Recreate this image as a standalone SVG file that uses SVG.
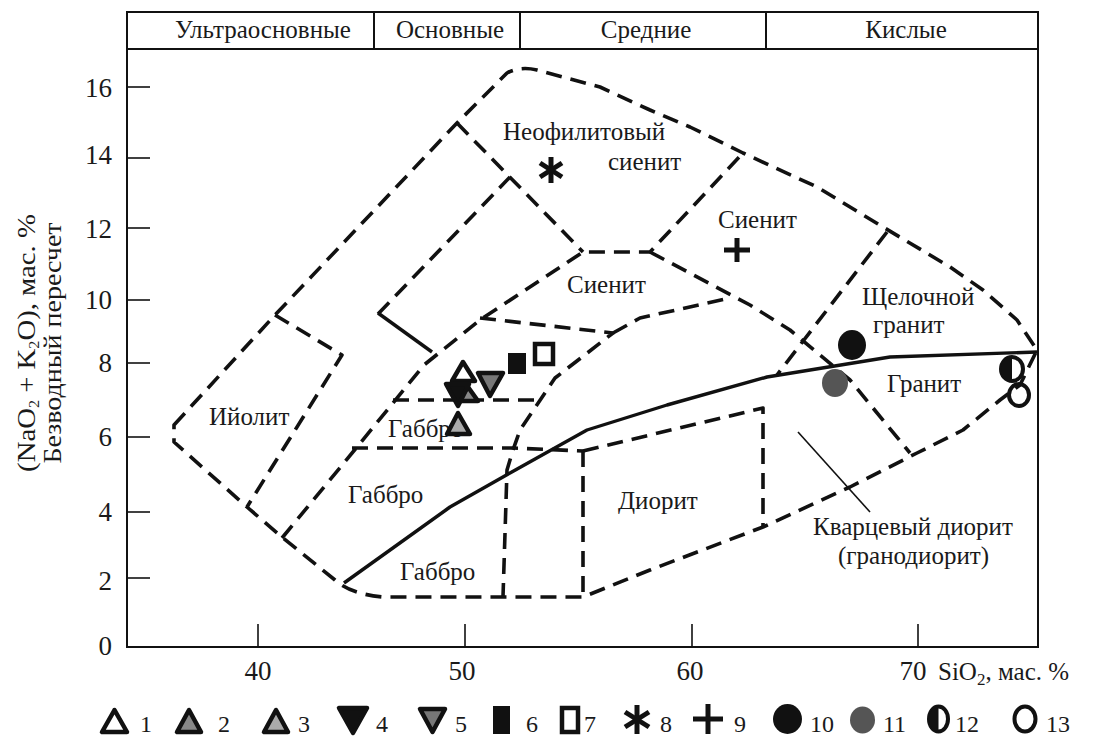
<svg xmlns="http://www.w3.org/2000/svg" width="1105" height="744" viewBox="0 0 1105 744">
<style>
text{font-family:"Liberation Serif","Times New Roman",serif;fill:#1a1a1a}
.lbl{font-size:25px}
.num{font-size:27px}
.leg{font-size:24px}
.dash{fill:none;stroke:#111;stroke-width:3.6;stroke-dasharray:16 9;stroke-linejoin:round}
.solid{fill:none;stroke:#111;stroke-width:3.4;stroke-linejoin:round}
.frame{fill:none;stroke:#111;stroke-width:2}
.tick{stroke:#111;stroke-width:1.6}
.mk{stroke:#111;stroke-width:4.5;stroke-linejoin:round}
.bar{stroke:#111;stroke-width:5;fill:none}
</style>
<rect width="1105" height="744" fill="#fff"/>
<g id="frame">
<rect class="frame" x="127" y="12" width="911" height="635"/>
<line class="frame" x1="127" y1="49" x2="1038" y2="49"/>
<line class="frame" x1="374" y1="12" x2="374" y2="49"/>
<line class="frame" x1="520" y1="12" x2="520" y2="49"/>
<line class="frame" x1="766" y1="12" x2="766" y2="49"/>
<text class="lbl" x="263" y="38" text-anchor="middle">Ультраосновные</text>
<text class="lbl" x="450" y="38" text-anchor="middle">Основные</text>
<text class="lbl" x="646" y="38" text-anchor="middle">Средние</text>
<text class="lbl" x="906" y="38" text-anchor="middle">Кислые</text>
</g>
<g id="axes">
<g class="tick">
<line x1="127" y1="87" x2="150" y2="87"/>
<line x1="127" y1="158" x2="150" y2="158"/>
<line x1="127" y1="228" x2="150" y2="228"/>
<line x1="127" y1="300" x2="150" y2="300"/>
<line x1="127" y1="363" x2="150" y2="363"/>
<line x1="127" y1="437" x2="150" y2="437"/>
<line x1="127" y1="512" x2="150" y2="512"/>
<line x1="127" y1="578" x2="150" y2="578"/>
<line x1="258" y1="624" x2="258" y2="647"/>
<line x1="465" y1="624" x2="465" y2="647"/>
<line x1="692" y1="624" x2="692" y2="647"/>
<line x1="918" y1="624" x2="918" y2="647"/>
</g>
<g class="num" text-anchor="end">
<text x="112" y="97">16</text>
<text x="112" y="164">14</text>
<text x="112" y="238">12</text>
<text x="112" y="309">10</text>
<text x="112" y="372">8</text>
<text x="112" y="446">6</text>
<text x="112" y="521">4</text>
<text x="112" y="590">2</text>
<text x="112" y="655">0</text>
</g>
<g class="num" text-anchor="middle">
<text x="258" y="680">40</text>
<text x="462" y="680">50</text>
<text x="690" y="680">60</text>
<text x="913" y="680">70</text>
</g>
<text class="lbl" font-size="27" x="938" y="680">SiO<tspan font-size="17" dy="5">2</tspan><tspan dy="-5">, мас. %</tspan></text>
<text class="lbl" font-size="26" transform="translate(35,343) rotate(-90) scale(1.15,1)" text-anchor="middle">(NaO<tspan font-size="14" dy="4">2</tspan><tspan dy="-4"> + K</tspan><tspan font-size="14" dy="4">2</tspan><tspan dy="-4">O),  мас. %</tspan></text>
<text class="lbl" transform="translate(61,343) rotate(-90) scale(1.12,1)" text-anchor="middle">Безводный пересчет</text>
</g>
<g id="connectors">
<path class="dash" d="M174,425 L275,315 L457,123 L507,73 Q520,66 537,70 L600,87 L650,110 L690,127 L743,153 L817,187 L883,227 L950,267 L983,290 L1017,320 L1037,350 L1020,385 L1000,400 L963,430 L917,453 L850,487 L763,527 L650,570 L583,597 L383,597 Q350,594 335,580 L283,538 L247,507 L174,442 Z"/>
<path class="dash" d="M275,315 L342,355 L247,507"/>
<path class="dash" d="M282,538 L357,447 L424,365 L480,320 L583,252 L650,252 L743,153"/>
<path class="dash" d="M457,123 L583,252"/>
<path class="dash" d="M378,314 L510,177"/>
<path class="dash" d="M480,318 L613,333 L555,378 L520,430 L513,450 L507,470 L503,597"/>
<path class="dash" d="M613,333 L640,318 L730,298"/>
<path class="dash" d="M650,252 L750,305 L790,330 L850,380 L910,453"/>
<path class="dash" d="M887,232 L777,375"/>
<path class="dash" d="M393,400 L540,400"/>
<path class="dash" d="M352,448 L513,448 L583,451"/>
<path class="dash" d="M583,451 L763,408 L763,527"/>
<path class="dash" d="M583,451 L583,597"/>
<path class="solid" d="M378,313 L432,352"/>
<path class="solid" d="M344,583 L450,507 L510,473 L587,430 L667,405 L767,377 L890,357 L1037,352"/>
<path fill="none" stroke="#111" stroke-width="1.6" d="M798,432 L870,512"/>
</g>
<g id="labels" class="lbl">
<text x="503" y="140">Неофилитовый</text>
<text x="608" y="170">сиенит</text>
<text x="718" y="228">Сиенит</text>
<text x="567" y="293">Сиенит</text>
<text x="862" y="305">Щелочной</text>
<text x="873" y="333">гранит</text>
<text x="887" y="392">Гранит</text>
<text x="209" y="425">Ийолит</text>
<text x="388" y="437">Габбро</text>
<text x="348" y="503">Габбро</text>
<text x="400" y="580">Габбро</text>
<text x="618" y="509">Диорит</text>
<text x="813" y="535">Кварцевый диорит</text>
<text x="838" y="564">(гранодиорит)</text>
</g>
<g id="points">
<polygon class="mk" fill="#fff" points="463,362 452,381 475,381"/>
<polygon class="mk" fill="#888" points="468,387 458,401 478,401"/>
<polygon class="mk" fill="#111" stroke-width="3" points="446,384 469,384 458,406"/>
<polygon class="mk" fill="#aaa" points="458,413 447,434 470,434"/>
<polygon class="mk" fill="#777" points="478,373 503,373 490,396"/>
<rect x="508" y="353" width="18" height="21" fill="#111"/>
<rect x="535" y="344" width="18" height="20" fill="#fff" stroke="#111" stroke-width="4.5"/>
<g class="bar"><line x1="551" y1="157" x2="551" y2="183"/><line x1="540" y1="163" x2="562" y2="177"/><line x1="540" y1="177" x2="562" y2="163"/></g>
<g class="bar"><line x1="737" y1="238" x2="737" y2="262"/><line x1="724" y1="250" x2="750" y2="250"/></g>
<ellipse cx="852" cy="345" rx="14" ry="15" fill="#111"/>
<ellipse cx="835" cy="383" rx="13" ry="14" fill="#555"/>
<ellipse cx="1012" cy="369" rx="11" ry="12" fill="#fff" stroke="#111" stroke-width="4"/>
<path d="M1012,357 A11,12 0 0 0 1012,381 Z" fill="#111"/>
<ellipse cx="1019" cy="395" rx="10" ry="11" fill="none" stroke="#111" stroke-width="4"/>
</g>
<g id="legend" transform="translate(0,-8)">
<polygon class="mk" stroke-width="5" fill="#fff" points="114.5,718 102,740 127,740"/>
<polygon class="mk" stroke-width="5" fill="#888" points="189,718 177,740 201,740"/>
<polygon class="mk" stroke-width="5" fill="#aaa" points="276,718 264,740 288,740"/>
<polygon class="mk" fill="#111" stroke-width="3" points="339,716 367,716 353,741"/>
<polygon class="mk" stroke-width="5" fill="#777" points="420,717 445,717 432.5,740"/>
<rect x="493" y="714" width="17" height="28" fill="#111"/>
<rect x="562" y="716" width="16" height="24" fill="#fff" stroke="#111" stroke-width="4.5"/>
<g class="bar"><line x1="637" y1="713" x2="637" y2="742"/><line x1="625" y1="720" x2="649" y2="735"/><line x1="625" y1="735" x2="649" y2="720"/></g>
<g class="bar"><line x1="708" y1="712" x2="708" y2="742"/><line x1="693" y1="727" x2="723" y2="727"/></g>
<ellipse cx="787.5" cy="727" rx="14.5" ry="15" fill="#111"/>
<ellipse cx="862.5" cy="728" rx="12.5" ry="13.5" fill="#555"/>
<ellipse cx="938.5" cy="727" rx="9.5" ry="12.5" fill="#fff" stroke="#111" stroke-width="4"/>
<path d="M938.5,714.5 A9.5,12.5 0 0 0 938.5,739.5 Z" fill="#111"/>
<ellipse cx="1025" cy="727" rx="10.5" ry="12.5" fill="none" stroke="#111" stroke-width="4"/>
<g class="leg">
<text x="140" y="740">1</text>
<text x="218" y="740">2</text>
<text x="298" y="740">3</text>
<text x="376" y="740">4</text>
<text x="455" y="740">5</text>
<text x="526" y="740">6</text>
<text x="584" y="740">7</text>
<text x="660" y="740">8</text>
<text x="734" y="740">9</text>
<text x="810" y="740">10</text>
<text x="883" y="740">11</text>
<text x="955" y="740">12</text>
<text x="1046" y="740">13</text>
</g>
</g>
</svg>
